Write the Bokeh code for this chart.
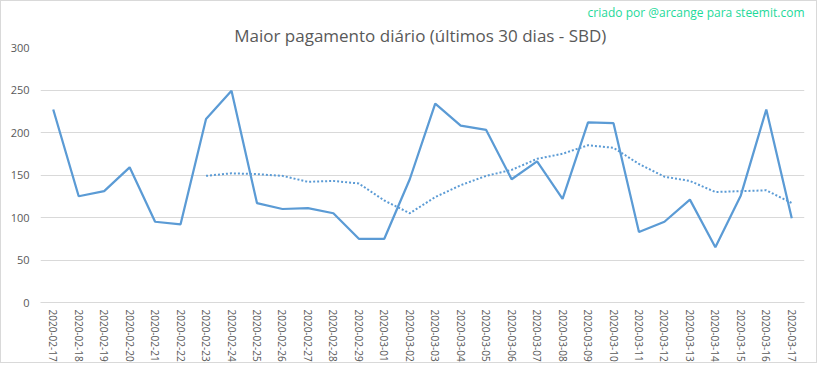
from bokeh.plotting import figure
from bokeh.models import Title, FactorRange, Range1d, FixedTicker
from bokeh.embed import file_html
from bokeh.resources import INLINE

dates = ["2020-02-17", "2020-02-18", "2020-02-19", "2020-02-20", "2020-02-21", "2020-02-22",
         "2020-02-23", "2020-02-24", "2020-02-25", "2020-02-26", "2020-02-27", "2020-02-28",
         "2020-02-29", "2020-03-01", "2020-03-02", "2020-03-03", "2020-03-04", "2020-03-05",
         "2020-03-06", "2020-03-07", "2020-03-08", "2020-03-09", "2020-03-10", "2020-03-11",
         "2020-03-12", "2020-03-13", "2020-03-14", "2020-03-15", "2020-03-16", "2020-03-17"]

max_payout = [227, 125, 131, 159, 95, 92, 216, 249, 117, 110, 111, 105, 75, 75, 145,
              234, 208, 203, 145, 166, 122, 212, 211, 83, 95, 121, 65, 126, 227, 99]

avg_dates = dates[6:]
moving_avg = [149, 152, 151, 149, 142, 143, 140, 120, 105, 124, 138, 149, 156, 169,
              175, 185, 182, 163, 148, 143, 130, 131, 132, 117]

y_ticks = [0, 50, 100, 150, 200, 250, 300]

blue = "#5B9BD5"
grey_text = "#595959"
grid = "#D9D9D9"

p = figure(width=817, height=363, x_range=FactorRange(factors=dates), y_range=Range1d(0, 300),
           output_backend="svg", toolbar_location=None,
           min_border_left=39, min_border_right=14, min_border_top=0, min_border_bottom=10,
           styles={"border": "1px solid #D9D9D9"})
p.x_range.range_padding = 0
p.outline_line_color = None

p.line(dates, max_payout, line_color=blue, line_width=2.25)
p.line(avg_dates, moving_avg, line_color=blue, line_width=2, line_dash="2 2")

p.yaxis.ticker = FixedTicker(ticks=y_ticks)
p.yaxis.axis_line_color = None
p.yaxis.major_tick_line_color = None
p.yaxis.minor_tick_line_color = None
p.yaxis.major_tick_out = 0
p.yaxis.major_tick_in = 0
p.yaxis.major_label_text_color = grey_text
p.yaxis.major_label_text_font = "Open Sans"
p.yaxis.major_label_text_font_size = "11px"
p.yaxis.major_label_standoff = 11

p.xaxis.axis_line_color = grid
p.xaxis.major_tick_line_color = None
p.xaxis.minor_tick_line_color = None
p.xaxis.major_tick_out = 0
p.xaxis.major_tick_in = 0
p.xaxis.major_label_orientation = "vertical"
p.xaxis.major_label_text_color = grey_text
p.xaxis.major_label_text_font = "Open Sans"
p.xaxis.major_label_text_font_size = "10px"
p.xaxis.major_label_standoff = 7

p.xgrid.grid_line_color = None
p.ygrid.grid_line_color = grid
p.ygrid.grid_line_width = 1

main_title = Title(text="Maior pagamento diário (últimos 30 dias  - SBD)", align="center",
                   text_color=grey_text, text_font="Open Sans", text_font_style="normal",
                   text_font_size="17px", offset=0, standoff=2)
credit = Title(text="criado por @arcange para steemit.com", align="right",
               text_color="#1ED99A", text_font="Open Sans", text_font_style="normal",
               text_font_size="12px", offset=0, standoff=0)
p.title = None
p.above = [main_title, credit]

open("out.html", "w").write(file_html(p, INLINE))
